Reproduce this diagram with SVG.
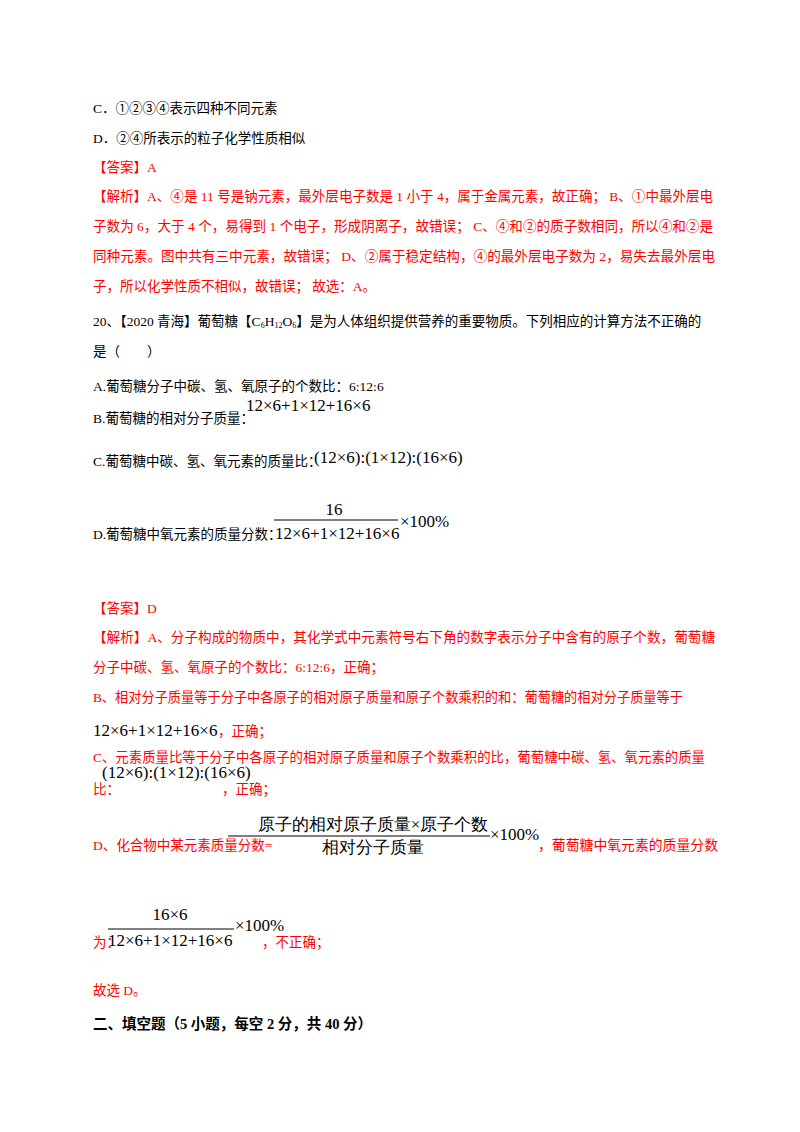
<svg xmlns="http://www.w3.org/2000/svg" width="800" height="1132" viewBox="0 0 800 1132">
<style>
text{font-family:"Liberation Serif","Noto Sans CJK SC",serif;font-size:13.5px;fill:#000}
.r{fill:#ff0000}
.m{font-family:"Liberation Serif",serif;font-size:17px}
.b{font-weight:bold;font-size:14.5px}
line{stroke:#000;stroke-width:1}
</style>
<rect width="800" height="1132" fill="#fff"/>
<text x="93" y="113">C．①②③④表示四种不同元素</text>
<text x="93" y="143">D．②④所表示的粒子化学性质相似</text>
<text x="93" y="172" class="r">【答案】A</text>
<text x="93" y="201" class="r" textLength="620" lengthAdjust="spacingAndGlyphs">【解析】A、④是 11 号是钠元素，最外层电子数是 1 小于 4，属于金属元素，故正确； B、①中最外层电</text>
<text x="93" y="231" class="r" textLength="620" lengthAdjust="spacingAndGlyphs">子数为 6，大于 4 个，易得到 1 个电子，形成阴离子，故错误； C、④和②的质子数相同，所以④和②是</text>
<text x="93" y="261" class="r" textLength="622" lengthAdjust="spacingAndGlyphs">同种元素。图中共有三中元素，故错误； D、②属于稳定结构，④的最外层电子数为 2，易失去最外层电</text>
<text x="93" y="291" class="r">子，所以化学性质不相似，故错误； 故选：A。</text>
<text x="93" y="326">20、【2020 青海】葡萄糖【C<tspan font-size="8" dy="2">6</tspan><tspan dy="-2">H</tspan><tspan font-size="8" dy="2">12</tspan><tspan dy="-2">O</tspan><tspan font-size="8" dy="2">6</tspan><tspan dy="-2">】是为人体组织提供营养的重要物质。下列相应的计算方法不正确的</tspan></text>
<text x="93" y="356">是（　　）</text>
<text x="93" y="391">A.葡萄糖分子中碳、氢、氧原子的个数比：6:12:6</text>
<text x="93" y="423">B.葡萄糖的相对分子质量：</text>
<text x="246" y="411" class="m">12×6+1×12+16×6</text>
<text x="93" y="466">C.葡萄糖中碳、氢、氧元素的质量比：</text>
<text x="314" y="463" class="m">(12×6):(1×12):(16×6)</text>
<text x="93" y="539">D.葡萄糖中氧元素的质量分数：</text>
<text x="334" y="515" class="m" text-anchor="middle">16</text>
<line x1="274" y1="520" x2="398" y2="520"/>
<text x="275" y="539" class="m">12×6+1×12+16×6</text>
<text x="400" y="527" class="m">×100%</text>
<text x="93" y="613" class="r">【答案】D</text>
<text x="93" y="642" class="r" textLength="622" lengthAdjust="spacingAndGlyphs">【解析】A、分子构成的物质中，其化学式中元素符号右下角的数字表示分子中含有的原子个数，葡萄糖</text>
<text x="93" y="672" class="r">分子中碳、氢、氧原子的个数比：6:12:6，正确；</text>
<text x="93" y="702" class="r" textLength="590" lengthAdjust="spacingAndGlyphs">B、相对分子质量等于分子中各原子的相对原子质量和原子个数乘积的和：葡萄糖的相对分子质量等于</text>
<text x="93" y="736" class="m">12×6+1×12+16×6</text>
<text x="218" y="736" class="r">，正确；</text>
<text x="93" y="762" class="r" textLength="612" lengthAdjust="spacingAndGlyphs">C、元素质量比等于分子中各原子的相对原子质量和原子个数乘积的比，葡萄糖中碳、氢、氧元素的质量</text>
<text x="93" y="794" class="r">比：</text>
<text x="102" y="778" class="m">(12×6):(1×12):(16×6)</text>
<text x="222" y="794" class="r">，正确；</text>
<text x="93" y="850" class="r">D、化合物中某元素质量分数=</text>
<text x="373" y="830" class="m" text-anchor="middle" font-family="'Liberation Serif','Noto Sans CJK SC',serif">原子的相对原子质量×原子个数</text>
<line x1="228" y1="836" x2="490" y2="836"/>
<text x="373" y="853" class="m" text-anchor="middle" font-family="'Liberation Serif','Noto Sans CJK SC',serif">相对分子质量</text>
<text x="490" y="840" class="m">×100%</text>
<text x="538" y="850" class="r" textLength="180" lengthAdjust="spacingAndGlyphs">，葡萄糖中氧元素的质量分数</text>
<text x="93" y="947" class="r" font-size="12">为：</text>
<text x="170" y="920" class="m" text-anchor="middle">16×6</text>
<line x1="108" y1="929" x2="234" y2="929"/>
<text x="108" y="946" class="m">12×6+1×12+16×6</text>
<text x="235" y="931" class="m">×100%</text>
<text x="262" y="947" class="r">，不正确；</text>
<text x="93" y="995" class="r">故选 D。</text>
<text x="93" y="1029" class="b">二、填空题（5 小题，每空 2 分，共 40 分）</text>
</svg>
